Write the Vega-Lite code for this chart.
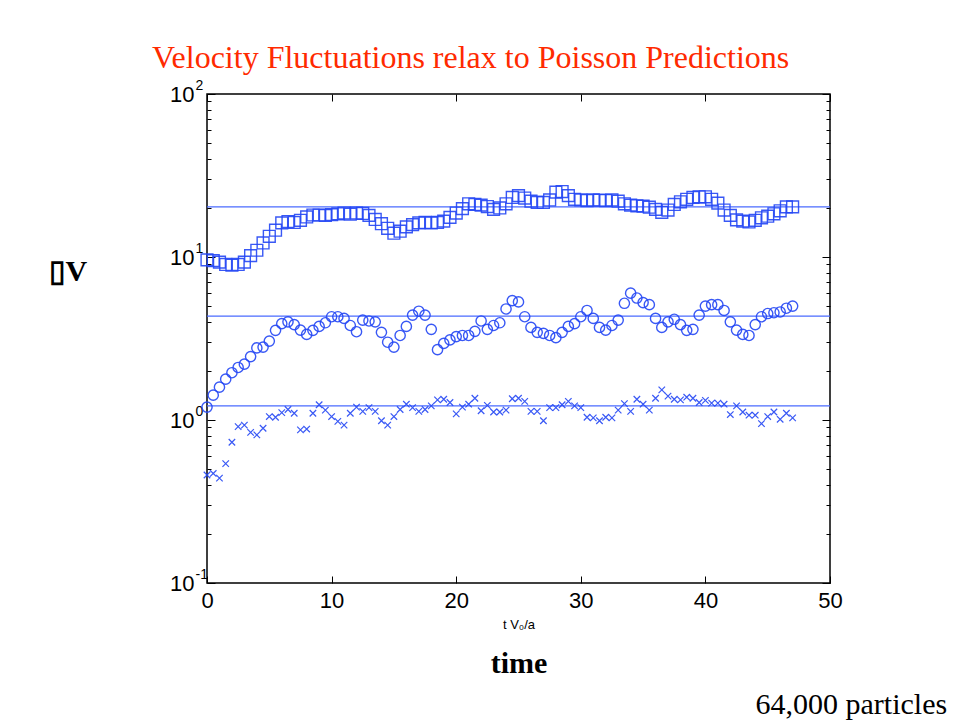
{
  "$schema": "https://vega.github.io/schema/vega-lite/v6.json",
  "width": 623,
  "height": 489,
  "autosize": "none",
  "padding": {"left": 207, "top": 94, "right": 124, "bottom": 140},
  "background": "white",
  "title": {
    "text": "Velocity Fluctuations relax to Poisson Predictions",
    "color": "#ff2a00",
    "font": "Liberation Serif",
    "fontSize": 32,
    "fontWeight": "normal",
    "anchor": "start",
    "frame": "group",
    "dx": -55,
    "dy": 48,
    "offset": 26,
    "baseline": "alphabetic"
  },
  "datasets": {
    "ref": [{"v": 20.3}, {"v": 4.34}, {"v": 1.22}],
    "pts": [
      {"s":"sq","t":0,"v":9.6},{"s":"sq","t":0.5,"v":9.5},{"s":"sq","t":1,"v":9.3},{"s":"sq","t":1.5,"v":9.0},{"s":"sq","t":2,"v":8.9},{"s":"sq","t":2.5,"v":9.0},{"s":"sq","t":3,"v":9.3},{"s":"sq","t":3.5,"v":10.2},{"s":"sq","t":4,"v":11.0},{"s":"sq","t":4.5,"v":12.2},
      {"s":"sq","t":5,"v":13.4},{"s":"sq","t":5.5,"v":14.6},{"s":"sq","t":6,"v":16.2},{"s":"sq","t":6.5,"v":16.5},{"s":"sq","t":7,"v":16.3},{"s":"sq","t":7.5,"v":16.8},{"s":"sq","t":8,"v":17.6},{"s":"sq","t":8.5,"v":18.1},{"s":"sq","t":9,"v":18.1},{"s":"sq","t":9.5,"v":18.0},
      {"s":"sq","t":10,"v":18.2},{"s":"sq","t":10.5,"v":18.4},{"s":"sq","t":11,"v":18.6},{"s":"sq","t":11.5,"v":18.3},{"s":"sq","t":12,"v":18.6},{"s":"sq","t":12.5,"v":18.5},{"s":"sq","t":13,"v":18.0},{"s":"sq","t":13.5,"v":17.0},{"s":"sq","t":14,"v":16.0},{"s":"sq","t":14.5,"v":15.0},
      {"s":"sq","t":15,"v":14.0},{"s":"sq","t":15.5,"v":14.4},{"s":"sq","t":16,"v":15.3},{"s":"sq","t":16.5,"v":15.8},{"s":"sq","t":17,"v":16.2},{"s":"sq","t":17.5,"v":16.3},{"s":"sq","t":18,"v":16.2},{"s":"sq","t":18.5,"v":16.3},{"s":"sq","t":19,"v":16.6},{"s":"sq","t":19.5,"v":17.5},
      {"s":"sq","t":20,"v":18.6},{"s":"sq","t":20.5,"v":19.8},{"s":"sq","t":21,"v":21.2},{"s":"sq","t":21.5,"v":21.0},{"s":"sq","t":22,"v":20.8},{"s":"sq","t":22.5,"v":20.4},{"s":"sq","t":23,"v":19.6},{"s":"sq","t":23.5,"v":20.0},{"s":"sq","t":24,"v":21.2},{"s":"sq","t":24.5,"v":23.2},
      {"s":"sq","t":25,"v":23.8},{"s":"sq","t":25.5,"v":23.0},{"s":"sq","t":26,"v":22.0},{"s":"sq","t":26.5,"v":21.6},{"s":"sq","t":27,"v":21.6},{"s":"sq","t":27.5,"v":22.4},{"s":"sq","t":28,"v":25.0},{"s":"sq","t":28.5,"v":25.2},{"s":"sq","t":29,"v":23.8},{"s":"sq","t":29.5,"v":22.6},
      {"s":"sq","t":30,"v":22.4},{"s":"sq","t":30.5,"v":22.2},{"s":"sq","t":31,"v":22.4},{"s":"sq","t":31.5,"v":22.3},{"s":"sq","t":32,"v":22.2},{"s":"sq","t":32.5,"v":22.4},{"s":"sq","t":33,"v":22.0},{"s":"sq","t":33.5,"v":21.2},{"s":"sq","t":34,"v":20.8},{"s":"sq","t":34.5,"v":20.6},
      {"s":"sq","t":35,"v":20.5},{"s":"sq","t":35.5,"v":20.2},{"s":"sq","t":36,"v":19.6},{"s":"sq","t":36.5,"v":18.8},{"s":"sq","t":37,"v":19.4},{"s":"sq","t":37.5,"v":21.0},{"s":"sq","t":38,"v":21.8},{"s":"sq","t":38.5,"v":22.6},{"s":"sq","t":39,"v":23.2},{"s":"sq","t":39.5,"v":23.4},
      {"s":"sq","t":40,"v":23.4},{"s":"sq","t":40.5,"v":22.6},{"s":"sq","t":41,"v":21.4},{"s":"sq","t":41.5,"v":19.4},{"s":"sq","t":42,"v":18.0},{"s":"sq","t":42.5,"v":16.9},{"s":"sq","t":43,"v":16.6},{"s":"sq","t":43.5,"v":16.4},{"s":"sq","t":44,"v":16.8},{"s":"sq","t":44.5,"v":17.4},
      {"s":"sq","t":45,"v":17.8},{"s":"sq","t":45.5,"v":18.4},{"s":"sq","t":46,"v":19.2},{"s":"sq","t":46.5,"v":20.3},{"s":"sq","t":47,"v":20.3},

      {"s":"ci","t":0,"v":1.20},{"s":"ci","t":0.5,"v":1.42},{"s":"ci","t":1,"v":1.59},{"s":"ci","t":1.5,"v":1.78},{"s":"ci","t":2,"v":1.95},{"s":"ci","t":2.5,"v":2.10},{"s":"ci","t":3,"v":2.20},{"s":"ci","t":3.5,"v":2.45},{"s":"ci","t":4,"v":2.77},{"s":"ci","t":4.5,"v":2.80},
      {"s":"ci","t":5,"v":3.05},{"s":"ci","t":5.5,"v":3.55},{"s":"ci","t":6,"v":3.90},{"s":"ci","t":6.5,"v":4.0},{"s":"ci","t":7,"v":3.85},{"s":"ci","t":7.5,"v":3.56},{"s":"ci","t":8,"v":3.35},{"s":"ci","t":8.5,"v":3.55},{"s":"ci","t":9,"v":3.75},{"s":"ci","t":9.5,"v":3.95},
      {"s":"ci","t":10,"v":4.3},{"s":"ci","t":10.5,"v":4.3},{"s":"ci","t":11,"v":4.2},{"s":"ci","t":11.5,"v":3.8},{"s":"ci","t":12,"v":3.48},{"s":"ci","t":12.5,"v":4.1},{"s":"ci","t":13,"v":4.05},{"s":"ci","t":13.5,"v":4.0},{"s":"ci","t":14,"v":3.45},{"s":"ci","t":14.5,"v":3.0},
      {"s":"ci","t":15,"v":2.8},{"s":"ci","t":15.5,"v":3.3},{"s":"ci","t":16,"v":3.75},{"s":"ci","t":16.5,"v":4.4},{"s":"ci","t":17,"v":4.65},{"s":"ci","t":17.5,"v":4.4},{"s":"ci","t":18,"v":3.6},{"s":"ci","t":18.5,"v":2.7},{"s":"ci","t":19,"v":2.95},{"s":"ci","t":19.5,"v":3.1},
      {"s":"ci","t":20,"v":3.25},{"s":"ci","t":20.5,"v":3.3},{"s":"ci","t":21,"v":3.3},{"s":"ci","t":21.5,"v":3.5},{"s":"ci","t":22,"v":4.05},{"s":"ci","t":22.5,"v":3.6},{"s":"ci","t":23,"v":3.8},{"s":"ci","t":23.5,"v":3.95},{"s":"ci","t":24,"v":4.8},{"s":"ci","t":24.5,"v":5.4},
      {"s":"ci","t":25,"v":5.3},{"s":"ci","t":25.5,"v":4.3},{"s":"ci","t":26,"v":3.7},{"s":"ci","t":26.5,"v":3.45},{"s":"ci","t":27,"v":3.4},{"s":"ci","t":27.5,"v":3.3},{"s":"ci","t":28,"v":3.2},{"s":"ci","t":28.5,"v":3.45},{"s":"ci","t":29,"v":3.75},{"s":"ci","t":29.5,"v":3.9},
      {"s":"ci","t":30,"v":4.3},{"s":"ci","t":30.5,"v":4.7},{"s":"ci","t":31,"v":4.2},{"s":"ci","t":31.5,"v":3.7},{"s":"ci","t":32,"v":3.56},{"s":"ci","t":32.5,"v":3.8},{"s":"ci","t":33,"v":4.1},{"s":"ci","t":33.5,"v":5.2},{"s":"ci","t":34,"v":6.0},{"s":"ci","t":34.5,"v":5.6},
      {"s":"ci","t":35,"v":5.25},{"s":"ci","t":35.5,"v":5.1},{"s":"ci","t":36,"v":4.2},{"s":"ci","t":36.5,"v":3.7},{"s":"ci","t":37,"v":4.0},{"s":"ci","t":37.5,"v":4.15},{"s":"ci","t":38,"v":3.85},{"s":"ci","t":38.5,"v":3.55},{"s":"ci","t":39,"v":3.6},{"s":"ci","t":39.5,"v":4.4},
      {"s":"ci","t":40,"v":5.0},{"s":"ci","t":40.5,"v":5.1},{"s":"ci","t":41,"v":5.1},{"s":"ci","t":41.5,"v":4.7},{"s":"ci","t":42,"v":4.0},{"s":"ci","t":42.5,"v":3.56},{"s":"ci","t":43,"v":3.35},{"s":"ci","t":43.5,"v":3.3},{"s":"ci","t":44,"v":3.85},{"s":"ci","t":44.5,"v":4.3},
      {"s":"ci","t":45,"v":4.5},{"s":"ci","t":45.5,"v":4.55},{"s":"ci","t":46,"v":4.6},{"s":"ci","t":46.5,"v":4.85},{"s":"ci","t":47,"v":5.0},

      {"s":"x","t":0,"v":0.46},{"s":"x","t":0.5,"v":0.47},{"s":"x","t":1,"v":0.44},{"s":"x","t":1.5,"v":0.54},{"s":"x","t":2,"v":0.73},{"s":"x","t":2.5,"v":0.91},{"s":"x","t":3,"v":0.93},{"s":"x","t":3.5,"v":0.84},{"s":"x","t":4,"v":0.81},{"s":"x","t":4.5,"v":0.89},
      {"s":"x","t":5,"v":1.05},{"s":"x","t":5.5,"v":1.04},{"s":"x","t":6,"v":1.11},{"s":"x","t":6.5,"v":1.16},{"s":"x","t":7,"v":1.10},{"s":"x","t":7.5,"v":0.87},{"s":"x","t":8,"v":0.88},{"s":"x","t":8.5,"v":1.10},{"s":"x","t":9,"v":1.24},{"s":"x","t":9.5,"v":1.15},
      {"s":"x","t":10,"v":1.05},{"s":"x","t":10.5,"v":0.98},{"s":"x","t":11,"v":0.93},{"s":"x","t":11.5,"v":1.10},{"s":"x","t":12,"v":1.20},{"s":"x","t":12.5,"v":1.13},{"s":"x","t":13,"v":1.19},{"s":"x","t":13.5,"v":1.13},{"s":"x","t":14,"v":0.99},{"s":"x","t":14.5,"v":0.93},
      {"s":"x","t":15,"v":1.05},{"s":"x","t":15.5,"v":1.16},{"s":"x","t":16,"v":1.25},{"s":"x","t":16.5,"v":1.19},{"s":"x","t":17,"v":1.13},{"s":"x","t":17.5,"v":1.16},{"s":"x","t":18,"v":1.22},{"s":"x","t":18.5,"v":1.33},{"s":"x","t":19,"v":1.34},{"s":"x","t":19.5,"v":1.28},
      {"s":"x","t":20,"v":1.09},{"s":"x","t":20.5,"v":1.20},{"s":"x","t":21,"v":1.25},{"s":"x","t":21.5,"v":1.36},{"s":"x","t":22,"v":1.14},{"s":"x","t":22.5,"v":1.23},{"s":"x","t":23,"v":1.12},{"s":"x","t":23.5,"v":1.12},{"s":"x","t":24,"v":1.15},{"s":"x","t":24.5,"v":1.35},
      {"s":"x","t":25,"v":1.36},{"s":"x","t":25.5,"v":1.30},{"s":"x","t":26,"v":1.13},{"s":"x","t":26.5,"v":1.13},{"s":"x","t":27,"v":0.99},{"s":"x","t":27.5,"v":1.19},{"s":"x","t":28,"v":1.19},{"s":"x","t":28.5,"v":1.24},{"s":"x","t":29,"v":1.30},{"s":"x","t":29.5,"v":1.22},
      {"s":"x","t":30,"v":1.19},{"s":"x","t":30.5,"v":1.04},{"s":"x","t":31,"v":1.03},{"s":"x","t":31.5,"v":0.99},{"s":"x","t":32,"v":1.04},{"s":"x","t":32.5,"v":1.03},{"s":"x","t":33,"v":1.15},{"s":"x","t":33.5,"v":1.26},{"s":"x","t":34,"v":1.13},{"s":"x","t":34.5,"v":1.34},
      {"s":"x","t":35,"v":1.25},{"s":"x","t":35.5,"v":1.15},{"s":"x","t":36,"v":1.36},{"s":"x","t":36.5,"v":1.53},{"s":"x","t":37,"v":1.40},{"s":"x","t":37.5,"v":1.34},{"s":"x","t":38,"v":1.33},{"s":"x","t":38.5,"v":1.38},{"s":"x","t":39,"v":1.36},{"s":"x","t":39.5,"v":1.28},
      {"s":"x","t":40,"v":1.32},{"s":"x","t":40.5,"v":1.27},{"s":"x","t":41,"v":1.27},{"s":"x","t":41.5,"v":1.25},{"s":"x","t":42,"v":1.08},{"s":"x","t":42.5,"v":1.22},{"s":"x","t":43,"v":1.12},{"s":"x","t":43.5,"v":1.07},{"s":"x","t":44,"v":1.07},{"s":"x","t":44.5,"v":0.95},
      {"s":"x","t":45,"v":1.05},{"s":"x","t":45.5,"v":1.12},{"s":"x","t":46,"v":1.01},{"s":"x","t":46.5,"v":1.10},{"s":"x","t":47,"v":1.03}
    ]
  },
  "layer": [
    {
      "data": {"name": "ref"},
      "mark": {"type": "rule", "color": "#4a6bff", "strokeWidth": 1.3},
      "encoding": {
        "y": {"field": "v", "type": "quantitative", "scale": {"type": "log", "domain": [0.1, 100]},
          "axis": {"orient": "left", "values": [0.1, 1, 10, 100], "ticks": false,
            "labelExpr": "datum.value == 100 ? '2' : datum.value == 10 ? '1' : datum.value == 1 ? '0' : '-1'",
            "labelFontSize": 14, "labelAlign": "left", "labelPadding": 12, "labelOffset": -9, "title": null}}
      }
    },
    {
      "data": {"name": "pts"},
      "transform": [{"filter": "datum.s == 'sq'"}],
      "mark": {"type": "point", "shape": "square", "filled": false, "color": "#2447f5", "strokeWidth": 1.4, "size": 140, "opacity": 0.9},
      "encoding": {
        "x": {"field": "t", "type": "quantitative", "scale": {"domain": [0, 50]},
          "axis": {"orient": "bottom", "values": [0, 10, 20, 30, 40, 50], "tickSize": -7, "labelPadding": 14, "title": "t V₀/a", "titleFont": "Liberation Sans", "titleFontSize": 13, "titleFontWeight": "normal", "titleY": 45, "titleBaseline": "alphabetic"}},
        "y": {"field": "v", "type": "quantitative", "scale": {"type": "log", "domain": [0.1, 100]},
          "axis": {"orient": "left",
            "values": [0.1,0.2,0.3,0.4,0.5,0.6,0.7,0.8,0.9,1,2,3,4,5,6,7,8,9,10,20,30,40,50,60,70,80,90,100],
            "labelExpr": "indexof([0.1, 1, 10, 100], datum.value) >= 0 ? '10' : ''",
            "tickSize": {"condition": {"test": "indexof([0.1, 1, 10, 100], datum.value) >= 0", "value": -8}, "value": -4},
            "labelPadding": 21,
            "title": "▯V", "titleAngle": 0, "titleFont": "Liberation Serif", "titleFontSize": 30, "titleFontWeight": "bold",
            "titleX": -159, "titleY": 186, "titleAlign": "left", "titleBaseline": "alphabetic"}}
      }
    },
    {
      "data": {"name": "pts"},
      "transform": [{"filter": "datum.s == 'ci'"}],
      "mark": {"type": "point", "shape": "circle", "filled": false, "color": "#2447f5", "strokeWidth": 1.4, "size": 105, "opacity": 0.9},
      "encoding": {
        "x": {"field": "t", "type": "quantitative", "scale": {"domain": [0, 50]},
          "axis": {"orient": "top", "values": [0, 10, 20, 30, 40, 50], "tickSize": -7, "labels": false, "title": null}},
        "y": {"field": "v", "type": "quantitative", "scale": {"type": "log", "domain": [0.1, 100]},
          "axis": {"orient": "right",
            "values": [0.1,0.2,0.3,0.4,0.5,0.6,0.7,0.8,0.9,1,2,3,4,5,6,7,8,9,10,20,30,40,50,60,70,80,90,100],
            "tickSize": {"condition": {"test": "indexof([0.1, 1, 10, 100], datum.value) >= 0", "value": -8}, "value": -4},
            "labels": false, "title": null}}
      }
    },
    {
      "data": {"name": "pts"},
      "transform": [{"filter": "datum.s == 'x'"}],
      "mark": {"type": "point", "shape": "M-1,-1L1,1M-1,1L1,-1", "filled": false, "color": "#2447f5", "strokeWidth": 1.2, "size": 42, "opacity": 0.9},
      "encoding": {
        "x": {"field": "t", "type": "quantitative", "scale": {"domain": [0, 50]},
          "axis": {"orient": "bottom", "ticks": false, "labels": false, "title": "time", "titleFont": "Liberation Serif", "titleFontSize": 30, "titleFontWeight": "bold", "titleY": 89, "titleBaseline": "alphabetic"}},
        "y": {"field": "v", "type": "quantitative", "scale": {"type": "log", "domain": [0.1, 100]},
          "axis": {"orient": "right", "ticks": false, "labels": false,
            "title": "64,000 particles", "titleAngle": 0, "titleFont": "Liberation Serif", "titleFontSize": 30, "titleFontWeight": "normal",
            "titleX": -75, "titleY": 619, "titleAlign": "left", "titleBaseline": "alphabetic"}}
      }
    }
  ],
  "resolve": {"axis": {"x": "independent", "y": "independent"}},
  "config": {
    "view": {"stroke": "black", "strokeWidth": 1.5},
    "axis": {"grid": false, "domain": false, "labelFont": "Liberation Sans", "labelFontSize": 22, "labelColor": "black", "tickColor": "black", "tickWidth": 1, "labelOverlap": false, "labelFlush": false, "titleColor": "black"}
  }
}
